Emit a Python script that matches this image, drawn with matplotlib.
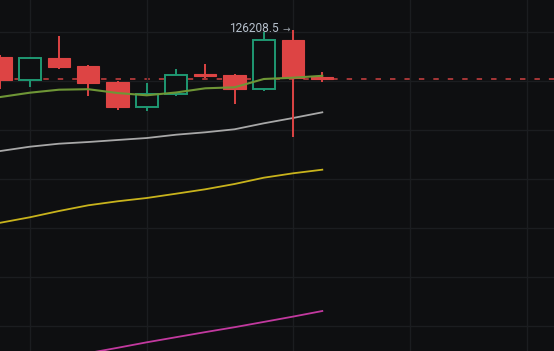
import matplotlib
matplotlib.use("Agg")
import matplotlib.pyplot as plt
import numpy as np

# candles (oldest first)
opens = [126096.7, 126002.9, 126093.9, 126061.2, 125994.7, 125895.1,
         125945.7, 126028.6, 126025.7, 125966.1, 126166.1, 126017.6]
highs = [126106.1, 126096.7, 126183.7, 126065.3, 126000.0, 125990.6,
         126049.0, 126070.6, 126027.0, 126198.0, 126208.5, 126038.0]
lows = [125967.3, 125976.7, 126050.2, 125940.0, 125881.6, 125878.8,
        125940.0, 126011.0, 125906.1, 125960.4, 125770.2, 125997.1]
closes = [126002.9, 126092.7, 126058.4, 125990.6, 125895.1, 125945.7,
          126024.5, 126020.4, 125966.1, 126166.1, 126012.2, 126006.9]

# moving averages
ma_green = [125934.7, 125952.2, 125964.5, 125966.5, 125951.0, 125941.6,
            125953.1, 125970.2, 125974.3, 126008.2, 126013.5, 126021.2]
ma_white = [125714.3, 125731.8, 125744.1, 125751.0, 125759.2, 125767.3,
            125780.8, 125790.6, 125802.9, 125827.3, 125849.0, 125872.2]
ma_yellow = [125421.6, 125443.7, 125469.4, 125492.7, 125509.0, 125522.5,
             125540.0, 125558.0, 125579.6, 125605.3, 125623.3, 125638.0]
ma_magenta = [124889.4, 124911.0, 124933.5, 124954.3, 124975.1,
              124995.1, 125016.7, 125038.4, 125061.2]  # from candle 3 on

x_grid = [1, 5, 10, 14, 18]
y_grid = [125000, 125200, 125400, 125600, 125800, 126000, 126200]

bg = "#0e0f11"
up = "#1f9872"
down = "#dd4444"

fig = plt.figure(figsize=(5.54, 3.51), dpi=100, facecolor=bg)
ax = fig.add_axes([0, 0, 1, 1])
ax.set_facecolor(bg)

idx = np.arange(len(opens))
o = np.array(opens)
c = np.array(closes)
rising = c > o

# wicks
for i in idx:
    col = up if rising[i] else down
    ax.vlines(i, lows[i], highs[i], color=col, lw=1.4, zorder=3)

# bodies
bottoms = np.minimum(o, c)
heights = np.abs(c - o)
ax.bar(idx[rising], heights[rising], bottom=bottoms[rising], width=0.76,
       facecolor=bg, edgecolor=up, linewidth=1.4, zorder=4)
ax.bar(idx[~rising], heights[~rising], bottom=bottoms[~rising], width=0.76,
       color=down, edgecolor=down, linewidth=0.8, zorder=4)

ax.plot(idx, ma_white, color="#a8a8a8", lw=1.3, zorder=2)
ax.plot(idx, ma_yellow, color="#c8b31c", lw=1.3, zorder=2)
ax.plot(idx[3:], ma_magenta, color="#c2399f", lw=1.3, zorder=2)
ax.plot(idx, ma_green, color="#6e9636", lw=1.5, zorder=5)

# last price line
ax.axhline(closes[-1], color="#b23a3a", lw=1.3, ls=(0, (3, 5)), zorder=1)

# highest price label
top = int(np.argmax(highs))
ax.text(top - 0.5, highs[top] + 5, "%.1f" % highs[top], ha="right",
        va="center", fontsize=8.6, family="Roboto", color="#b6c0cc", zorder=6)
ax.text(top - 0.24, highs[top] + 3, "\u2192", ha="center", va="center",
        fontsize=6.5, color="#9ba2aa", zorder=6)

ax.set_xlim(-0.017, 18.92)
ax.set_ylim(124898.0, 126330.6)
ax.set_xticks(x_grid)
ax.set_yticks(y_grid)
ax.grid(True, color="#1b1d20", lw=1)
ax.tick_params(length=0, labelleft=False, labelbottom=False)
for s in ax.spines.values():
    s.set_visible(False)

fig.savefig("out.png", dpi=100, facecolor=bg)
